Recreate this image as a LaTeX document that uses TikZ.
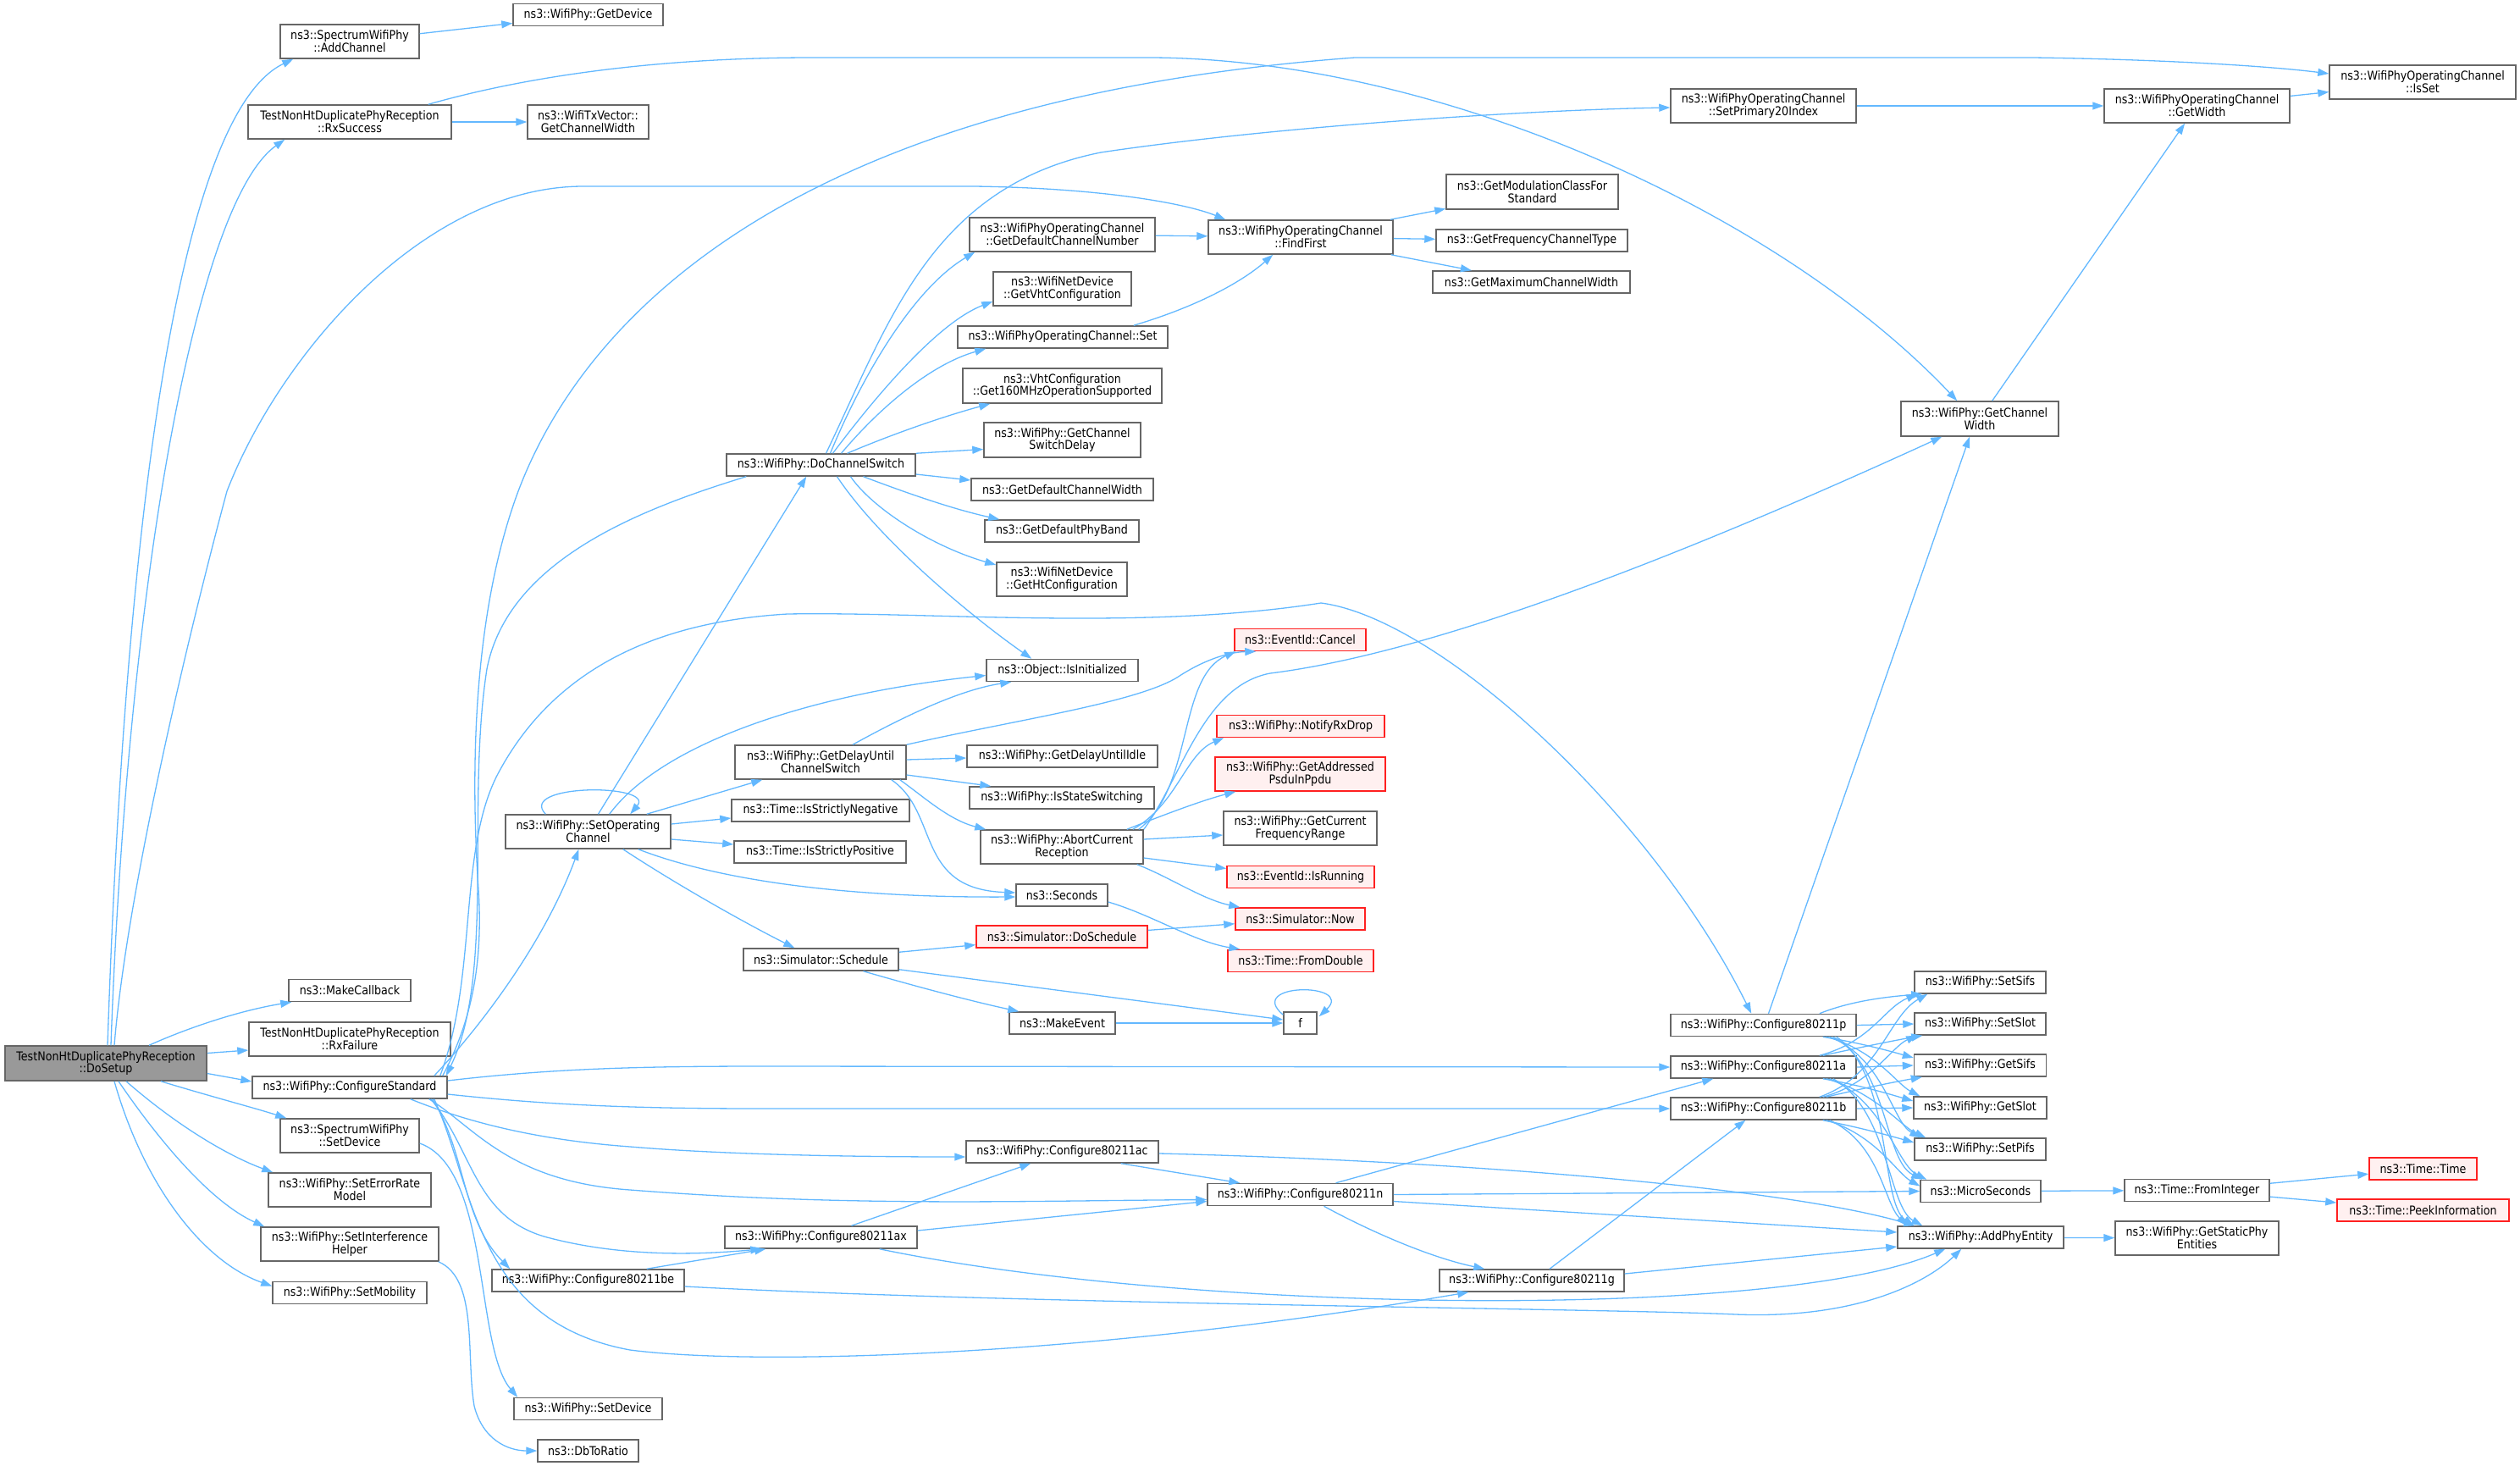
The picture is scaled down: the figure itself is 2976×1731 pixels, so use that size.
\documentclass[tikz,border=0pt]{standalone}
\usepackage{fontspec}
\setmainfont{DejaVu Sans}[FakeStretch=0.88]
\usepackage{tikz}
\usetikzlibrary{arrows.meta,calc}
\definecolor{edgeblue}{HTML}{63B8FF}
\definecolor{boxgray}{HTML}{666666}
\definecolor{rootgray}{HTML}{999999}
\definecolor{redline}{HTML}{FF2020}
\definecolor{redfill}{HTML}{FFF0F0}

\begin{document}
\begin{tikzpicture}[x=1pt,y=1pt,yscale=-1,xscale=1,
    callbox/.style={draw=boxgray, fill=white, line width=1.5pt, inner sep=0pt, align=center, font=\fontsize{14.4}{14.8}\selectfont},
    rootbox/.style={callbox, fill=rootgray},
    redbox/.style={callbox, draw=redline, fill=redfill},
    callarrow/.style={draw=edgeblue, line width=1.3pt, -{Triangle[length=13pt,width=9pt]}}]
    %set diagram left start at 0, and has the size of the call graph
    \useasboundingbox (0,0) rectangle (2976,1731);

    % Text Node: caller
    \node[rootbox, minimum width=238, minimum height=41] (root) at (125,1255.5) {TestNonHtDuplicatePhyReception\\::DoSetup};
    % Text Node: first column
    \node[callbox, minimum width=164, minimum height=40] (addch) at (413,49) {ns3::SpectrumWifiPhy\\::AddChannel};
    \node[callbox, minimum width=240, minimum height=40] (rxsucc) at (413,144) {TestNonHtDuplicatePhyReception\\::RxSuccess};
    \node[callbox, minimum width=144, minimum height=26] (makecb) at (413,1169.5) {ns3::MakeCallback};
    \node[callbox, minimum width=238, minimum height=40] (rxfail) at (413,1227) {TestNonHtDuplicatePhyReception\\::RxFailure};
    \node[callbox, minimum width=230, minimum height=26] (cfgstd) at (413,1284) {ns3::WifiPhy::ConfigureStandard};
    \node[callbox, minimum width=164, minimum height=40] (spsetdev) at (413,1341) {ns3::SpectrumWifiPhy\\::SetDevice};
    \node[callbox, minimum width=192, minimum height=40] (seterr) at (413,1405) {ns3::WifiPhy::SetErrorRate\\Model};
    \node[callbox, minimum width=210, minimum height=40] (setintf) at (413,1469) {ns3::WifiPhy::SetInterference\\Helper};
    \node[callbox, minimum width=182, minimum height=26] (setmob) at (413,1526.5) {ns3::WifiPhy::SetMobility};
    % Text Node: second column
    \node[callbox, minimum width=177, minimum height=26] (getdev) at (694.5,17.5) {ns3::WifiPhy::GetDevice};
    \node[callbox, minimum width=143, minimum height=40] (txwidth) at (694.5,144) {ns3::WifiTxVector::\\GetChannelWidth};
    \node[callbox, minimum width=195, minimum height=40] (setopch) at (694.5,982) {ns3::WifiPhy::SetOperating\\Channel};
    \node[callbox, minimum width=227, minimum height=26] (cfgbe) at (694.5,1512) {ns3::WifiPhy::Configure80211be};
    \node[callbox, minimum width=175, minimum height=26] (setdev) at (694.5,1663.5) {ns3::WifiPhy::SetDevice};
    \node[callbox, minimum width=119, minimum height=26] (dbratio) at (694.5,1713) {ns3::DbToRatio};
    % Text Node: third column
    \node[callbox, minimum width=223, minimum height=26] (dochsw) at (969.5,549) {ns3::WifiPhy::DoChannelSwitch};
    \node[callbox, minimum width=202, minimum height=40] (delaysw) at (969,900) {ns3::WifiPhy::GetDelayUntil\\ChannelSwitch};
    \node[callbox, minimum width=210, minimum height=26] (strneg) at (969,957) {ns3::Time::IsStrictlyNegative};
    \node[callbox, minimum width=203, minimum height=26] (strpos) at (968.5,1006) {ns3::Time::IsStrictlyPositive};
    \node[callbox, minimum width=183, minimum height=26] (sched) at (969.5,1133) {ns3::Simulator::Schedule};
    \node[callbox, minimum width=227, minimum height=26] (cfgax) at (969.5,1461) {ns3::WifiPhy::Configure80211ax};
    % Text Node: fourth column
    \node[callbox, minimum width=219, minimum height=40] (defchn) at (1254.5,277) {ns3::WifiPhyOperatingChannel\\::GetDefaultChannelNumber};
    \node[callbox, minimum width=163, minimum height=40] (vhtconf) at (1254.5,341) {ns3::WifiNetDevice\\::GetVhtConfiguration};
    \node[callbox, minimum width=248, minimum height=26] (opset) at (1255,398) {ns3::WifiPhyOperatingChannel::Set};
    \node[callbox, minimum width=235, minimum height=41] (get160) at (1254.5,455.5) {ns3::VhtConfiguration\\::Get160MHzOperationSupported};
    \node[callbox, minimum width=185, minimum height=41] (swdelay) at (1254.5,519.5) {ns3::WifiPhy::GetChannel\\SwitchDelay};
    \node[callbox, minimum width=215, minimum height=26] (defwidth) at (1254.5,578) {ns3::GetDefaultChannelWidth};
    \node[callbox, minimum width=182, minimum height=26] (phyband) at (1254,627) {ns3::GetDefaultPhyBand};
    \node[callbox, minimum width=154, minimum height=40] (htconf) at (1254,684) {ns3::WifiNetDevice\\::GetHtConfiguration};
    \node[callbox, minimum width=179, minimum height=26] (isinit) at (1254.5,791.5) {ns3::Object::IsInitialized};
    \node[callbox, minimum width=225, minimum height=26] (delayidle) at (1254.5,893) {ns3::WifiPhy::GetDelayUntilIdle};
    \node[callbox, minimum width=218, minimum height=26] (stsw) at (1254,942) {ns3::WifiPhy::IsStateSwitching};
    \node[callbox, minimum width=192, minimum height=40] (abortrx) at (1254,1000) {ns3::WifiPhy::AbortCurrent\\Reception};
    \node[callbox, minimum width=108, minimum height=26] (seconds) at (1254,1057) {ns3::Seconds};
    \node[redbox, minimum width=202, minimum height=26] (dosched) at (1254,1106) {ns3::Simulator::DoSchedule};
    \node[callbox, minimum width=125, minimum height=26] (makeev) at (1254.5,1208) {ns3::MakeEvent};
    \node[callbox, minimum width=227, minimum height=26] (cfgac) at (1254.5,1360) {ns3::WifiPhy::Configure80211ac};
    % Text Node: fifth column
    \node[callbox, minimum width=218, minimum height=40] (ffirst) at (1536,280) {ns3::WifiPhyOperatingChannel\\::FindFirst};
    \node[redbox, minimum width=155, minimum height=26] (cancel) at (1535.5,755.5) {ns3::EventId::Cancel};
    \node[redbox, minimum width=198, minimum height=26] (rxdrop) at (1536,857.5) {ns3::WifiPhy::NotifyRxDrop};
    \node[redbox, minimum width=201, minimum height=40] (addrpsdu) at (1535.5,914) {ns3::WifiPhy::GetAddressed\\PsduInPpdu};
    \node[callbox, minimum width=181, minimum height=40] (curfreq) at (1535.5,978) {ns3::WifiPhy::GetCurrent\\FrequencyRange};
    \node[redbox, minimum width=174, minimum height=26] (isrun) at (1536,1035.5) {ns3::EventId::IsRunning};
    \node[redbox, minimum width=153, minimum height=26] (simnow) at (1535.5,1085) {ns3::Simulator::Now};
    \node[redbox, minimum width=172, minimum height=26] (fromdbl) at (1536,1134.5) {ns3::Time::FromDouble};
    \node[callbox, minimum width=39, minimum height=26] (ffun) at (1535.5,1208) {f};
    \node[callbox, minimum width=219, minimum height=26] (cfgn) at (1535.5,1410.5) {ns3::WifiPhy::Configure80211n};
    % Text Node: sixth column
    \node[callbox, minimum width=203, minimum height=41] (modclass) at (1809.5,226.5) {ns3::GetModulationClassFor\\Standard};
    \node[callbox, minimum width=226, minimum height=26] (freqtype) at (1809,284) {ns3::GetFrequencyChannelType};
    \node[callbox, minimum width=233, minimum height=26] (maxwidth) at (1808.5,333) {ns3::GetMaximumChannelWidth};
    \node[callbox, minimum width=218, minimum height=26] (cfgg) at (1809,1512) {ns3::WifiPhy::Configure80211g};
    % Text Node: seventh column
    \node[callbox, minimum width=219, minimum height=40] (setprim) at (2082.5,125) {ns3::WifiPhyOperatingChannel\\::SetPrimary20Index};
    \node[callbox, minimum width=219, minimum height=26] (cfgp) at (2082.5,1210.5) {ns3::WifiPhy::Configure80211p};
    \node[callbox, minimum width=219, minimum height=26] (cfga) at (2082.5,1260) {ns3::WifiPhy::Configure80211a};
    \node[callbox, minimum width=219, minimum height=26] (cfgb) at (2082.5,1309) {ns3::WifiPhy::Configure80211b};
    % Text Node: eighth column
    \node[callbox, minimum width=186, minimum height=41] (chwidth) at (2338,494.5) {ns3::WifiPhy::GetChannel\\Width};
    \node[callbox, minimum width=155, minimum height=26] (setsifs) at (2338.5,1160) {ns3::WifiPhy::SetSifs};
    \node[callbox, minimum width=155, minimum height=26] (setslot) at (2338.5,1209) {ns3::WifiPhy::SetSlot};
    \node[callbox, minimum width=156, minimum height=26] (getsifs) at (2338.5,1258) {ns3::WifiPhy::GetSifs};
    \node[callbox, minimum width=157, minimum height=26] (getslot) at (2338.5,1308) {ns3::WifiPhy::GetSlot};
    \node[callbox, minimum width=155, minimum height=26] (setpifs) at (2338.5,1357) {ns3::WifiPhy::SetPifs};
    \node[callbox, minimum width=142, minimum height=26] (micros) at (2339,1406.5) {ns3::MicroSeconds};
    \node[callbox, minimum width=196, minimum height=26] (addphy) at (2339,1461) {ns3::WifiPhy::AddPhyEntity};
    % Text Node: last columns
    \node[callbox, minimum width=219, minimum height=40] (getwidth) at (2594.5,125) {ns3::WifiPhyOperatingChannel\\::GetWidth};
    \node[callbox, minimum width=171, minimum height=26] (fromint) at (2594.5,1405.5) {ns3::Time::FromInteger};
    \node[callbox, minimum width=193, minimum height=40] (staticphy) at (2594.5,1462) {ns3::WifiPhy::GetStaticPhy\\Entities};
    \node[callbox, minimum width=220, minimum height=40] (isset) at (2861,97) {ns3::WifiPhyOperatingChannel\\::IsSet};
    \node[redbox, minimum width=127, minimum height=26] (timetime) at (2861.5,1380) {ns3::Time::Time};
    \node[redbox, minimum width=203, minimum height=26] (peekinfo) at (2861.5,1429) {ns3::Time::PeekInformation};

    % Calls of DoSetup
    \draw[callarrow] ($(root.north)+(2,0)$) .. controls (150,550) and (220,130) .. ($(addch.south west)+(16,0)$);
    \draw[callarrow] ($(root.north)+(6,0)$) .. controls (150,700) and (230,240) .. ($(rxsucc.south west)+(44,0)$);
    \draw[callarrow] ($(root.north)+(10,0)$) .. controls (150,1050) and (225,740) .. (268,580) .. controls (330,420) and (500,220) .. (689,220) -- (1150,220) .. controls (1300,222) and (1400,240) .. ($(ffirst.north west)+(21,0)$);
    \draw[callarrow] ($(root.north)+(51,0)$) .. controls (230,1210) and (290,1192) .. ($(makecb.south west)+(4,0)$);
    \draw[callarrow] ($(root.east)+(0,-12)$) -- ($(rxfail.west)+(0,13)$);
    \draw[callarrow] ($(root.east)+(0,12)$) -- ($(cfgstd.west)+(0,-7)$);
    \draw[callarrow] ($(root.south)+(65,0)$) .. controls (250,1295) and (300,1308) .. ($(spsetdev.north west)+(8,0)$);
    \draw[callarrow] ($(root.south)+(24,0)$) .. controls (210,1330) and (270,1365) .. ($(seterr.north west)+(6,0)$);
    \draw[callarrow] ($(root.south)+(15,0)$) .. controls (190,1350) and (250,1420) .. ($(setintf.north west)+(5,0)$);
    \draw[callarrow] ($(root.south)+(10,0)$) .. controls (170,1400) and (240,1490) .. ($(setmob.west)+(0,-8)$);

    % First column
    \draw[callarrow] (addch) -- (getdev);
    \draw[callarrow] (rxsucc) -- (txwidth);
    \draw[callarrow] ($(rxsucc.north east)+(-28,0)$) .. controls (640,85) and (800,68) .. (960,68) -- (1360,68) .. controls (1700,70) and (2100,250) .. ($(chwidth.north west)+(67,0)$);
    \draw[callarrow] ($(cfgstd.north east)+(-6,0)$) .. controls (560,1200) and (570,1130) .. (565,1050) .. controls (555,900) and (560,720) .. (612,580) .. controls (680,400) and (900,120) .. (1600,68) -- (2400,68) .. controls (2550,70) and (2680,78) .. ($(isset.west)+(0,-10)$);
    \draw[callarrow] ($(cfgstd.north east)+(-16,0)$) .. controls (560,1220) and (640,1120) .. ($(setopch.south)+(-11,0)$);
    \draw[callarrow] ($(cfgstd.north east)+(-9,0)$) .. controls (565,1150) and (540,1000) .. (590,910) .. controls (650,800) and (760,735) .. (930,725) .. controls (1100,722) and (1350,745) .. (1560,712) .. controls (1700,730) and (1950,960) .. ($(cfgp.north west)+(96,0)$);
    \draw[callarrow] ($(cfgstd.east)+(0,-8)$) .. controls (650,1262) and (750,1259) .. (900,1259) -- (cfga.west);
    \draw[callarrow] ($(cfgstd.east)+(0,8)$) .. controls (650,1305) and (750,1309) .. (900,1309) -- (cfgb.west);
    \draw[callarrow] ($(cfgstd.south east)+(-44,0)$) .. controls (540,1320) and (620,1345) .. (744,1354) .. controls (850,1363) and (1000,1366) .. ($(cfgac.west)+(0,6)$);
    \draw[callarrow] ($(cfgstd.south east)+(-22,0)$) .. controls (560,1330) and (600,1395) .. (744,1405) .. controls (1000,1425) and (1200,1418) .. ($(cfgn.west)+(0,6)$);
    \draw[callarrow] ($(cfgstd.south east)+(-20,0)$) .. controls (560,1360) and (560,1440) .. (650,1462) .. controls (720,1480) and (800,1484) .. ($(cfgax.south west)+(44,0)$);
    \draw[callarrow] ($(cfgstd.south east)+(-18,0)$) .. controls (550,1360) and (545,1440) .. ($(cfgbe.north west)+(22,0)$);
    \draw[callarrow] ($(cfgstd.south east)+(-16,0)$) .. controls (560,1400) and (560,1560) .. (744,1594) .. controls (900,1614) and (1300,1600) .. ($(cfgg.south west)+(35,0)$);
    \draw[callarrow] ($(spsetdev.east)+(0,9)$) .. controls (580,1380) and (560,1590) .. ($(setdev.north west)+(5,0)$);
    \draw[callarrow] ($(setintf.south east)+(-1,0)$) .. controls (565,1510) and (550,1600) .. (560,1660) .. controls (570,1700) and (600,1713) .. (dbratio.west);

    % SetOperatingChannel
    \draw[callarrow] ($(setopch.north west)+(48,0)$) .. controls (610,925) and (775,925) .. ($(setopch.north west)+(148,0)$);
    \draw[callarrow] ($(setopch.north)+(12,0)$) -- ($(dochsw.south west)+(95,0)$);
    \draw[callarrow] ($(setopch.north east)+(-73,0)$) .. controls (780,880) and (950,820) .. ($(isinit.west)+(0,6)$);
    \draw[callarrow] ($(setopch.north east)+(-29,0)$) -- ($(delaysw.south west)+(33,0)$);
    \draw[callarrow] ($(setopch.east)+(0,-9)$) -- ($(strneg.west)+(0,9)$);
    \draw[callarrow] ($(setopch.east)+(0,9)$) -- ($(strpos.west)+(0,-9)$);
    \draw[callarrow] ($(setopch.south east)+(-39,0)$) .. controls (850,1040) and (1000,1060) .. ($(seconds.west)+(0,2)$);
    \draw[callarrow] ($(setopch.south east)+(-57,0)$) .. controls (800,1045) and (880,1090) .. ($(sched.north west)+(61,0)$);

    % DoChannelSwitch
    \draw[callarrow] ($(dochsw.north)+(6,0)$) .. controls (1050,380) and (1100,220) .. (1300,180) .. controls (1500,150) and (1800,130) .. ($(setprim.west)+(0,2)$);
    \draw[callarrow] ($(dochsw.north)+(11,0)$) .. controls (1020,440) and (1080,340) .. ($(defchn.south west)+(7,0)$);
    \draw[callarrow] ($(dochsw.north)+(14,0)$) .. controls (1040,460) and (1110,380) .. ($(vhtconf.west)+(0,15)$);
    \draw[callarrow] ($(dochsw.north)+(24,0)$) .. controls (1040,480) and (1100,430) .. ($(opset.south west)+(34,0)$);
    \draw[callarrow] ($(dochsw.north)+(31,0)$) .. controls (1060,510) and (1120,490) .. ($(get160.south west)+(33,0)$);
    \draw[callarrow] (dochsw.north east) -- ($(swdelay.west)+(0,11)$);
    \draw[callarrow] ($(dochsw.east)+(0,11)$) -- ($(defwidth.west)+(0,-11)$);
    \draw[callarrow] ($(dochsw.south)+(50,0)$) .. controls (1060,578) and (1120,600) .. ($(phyband.north west)+(18,0)$);
    \draw[callarrow] ($(dochsw.south)+(35,0)$) .. controls (1030,600) and (1100,645) .. ($(htconf.west)+(0,-17)$);
    \draw[callarrow] ($(dochsw.south)+(19,0)$) .. controls (1040,640) and (1150,730) .. ($(isinit.north west)+(54,0)$);
    \draw[callarrow] ($(dochsw.south west)+(24,0)$) .. controls (760,600) and (600,660) .. (575,790) .. controls (550,950) and (585,1150) .. ($(cfgstd.north east)+(-2,0)$);

    % WifiPhyOperatingChannel
    \draw[callarrow] (defchn) -- (ffirst);
    \draw[callarrow] ($(opset.north east)+(-41,0)$) .. controls (1420,360) and (1470,330) .. ($(ffirst.south west)+(77,0)$);
    \draw[callarrow] (ffirst) -- (modclass);
    \draw[callarrow] (ffirst) -- (freqtype);
    \draw[callarrow] (ffirst) -- (maxwidth);
    \draw[callarrow] (setprim) -- (getwidth);
    \draw[callarrow] (chwidth) -- (getwidth);
    \draw[callarrow] (getwidth) -- (isset);

    % GetDelayUntilChannelSwitch
    \draw[callarrow] ($(delaysw.north)+(38,0)$) .. controls (1060,850) and (1130,815) .. ($(isinit.south west)+(30,0)$);
    \draw[callarrow] (delaysw.north east) .. controls (1200,850) and (1340,830) .. (1390,800) .. controls (1420,780) and (1450,770) .. ($(cancel.south west)+(26,0)$);
    \draw[callarrow] ($(delaysw.east)+(0,-3)$) -- ($(delayidle.west)+(0,2)$);
    \draw[callarrow] ($(delaysw.east)+(0,15)$) -- ($(stsw.north west)+(26,0)$);
    \draw[callarrow] ($(delaysw.south east)+(-8,0)$) .. controls (1090,940) and (1120,968) .. ($(abortrx.north west)+(7,0)$);
    \draw[callarrow] ($(delaysw.south east)+(-18,0)$) .. controls (1110,960) and (1080,1050) .. ($(seconds.west)+(0,-3)$);

    % AbortCurrentReception
    \draw[callarrow] ($(abortrx.north east)+(-6,0)$) .. controls (1410,930) and (1390,800) .. ($(cancel.south west)+(2,0)$);
    \draw[callarrow] (abortrx.north east) .. controls (1395,920) and (1420,810) .. (1500,795) .. controls (1700,770) and (2000,650) .. ($(chwidth.south west)+(49,0)$);
    \draw[callarrow] ($(abortrx.north east)+(-13,0)$) .. controls (1390,950) and (1400,890) .. ($(rxdrop.south west)+(9,0)$);
    \draw[callarrow] ($(abortrx.north east)+(-20,0)$) .. controls (1380,960) and (1420,945) .. ($(addrpsdu.south west)+(25,0)$);
    \draw[callarrow] ($(abortrx.east)+(0,-9)$) -- ($(curfreq.west)+(0,8)$);
    \draw[callarrow] ($(abortrx.east)+(0,13)$) -- ($(isrun.west)+(0,-10)$);
    \draw[callarrow] ($(abortrx.south east)+(-8,0)$) .. controls (1380,1035) and (1420,1062) .. ($(simnow.north west)+(6,0)$);

    % Scheduling
    \draw[callarrow] ($(seconds.east)+(0,8)$) .. controls (1360,1080) and (1410,1112) .. ($(fromdbl.north west)+(15,0)$);
    \draw[callarrow] (dosched) -- (simnow);
    \draw[callarrow] (sched) -- (dosched);
    \draw[callarrow] ($(sched.south)+(50,0)$) .. controls (1100,1170) and (1160,1185) .. ($(makeev.north west)+(12,0)$);
    \draw[callarrow] ($(sched.south east)+(0,-2)$) -- ($(ffun.west)+(0,-4)$);
    \draw[callarrow] (makeev) -- (ffun);
    \draw[callarrow] ($(ffun.north west)+(0,4)$) .. controls (1470,1160) and (1600,1160) .. ($(ffun.north east)+(2,6)$);

    % Configure80211x
    \draw[callarrow] ($(cfgbe.north east)+(-45,0)$) -- ($(cfgax.south west)+(49,0)$);
    \draw[callarrow] ($(cfgbe.east)+(0,7)$) .. controls (1200,1540) and (1900,1545) .. (2050,1552) .. controls (2200,1558) and (2280,1510) .. ($(addphy.south west)+(76,0)$);
    \draw[callarrow] ($(cfgax.north)+(36,0)$) -- ($(cfgac.south west)+(77,0)$);
    \draw[callarrow] ($(cfgax.east)+(0,-8)$) -- ($(cfgn.west)+(0,8)$);
    \draw[callarrow] ($(cfgax.south east)+(-45,0)$) .. controls (1400,1550) and (2100,1560) .. ($(addphy.south west)+(57,0)$);
    \draw[callarrow] ($(cfgac.south east)+(-45,0)$) -- ($(cfgn.north west)+(39,0)$);
    \draw[callarrow] ($(cfgac.east)+(0,2)$) .. controls (1700,1370) and (2100,1400) .. ($(addphy.north west)+(21,0)$);
    \draw[callarrow] ($(cfgn.north)+(42,0)$) -- ($(cfga.south west)+(51,0)$);
    \draw[callarrow] ($(cfgn.south)+(28,0)$) .. controls (1620,1455) and (1690,1485) .. ($(cfgg.north west)+(54,0)$);
    \draw[callarrow] (cfgn.east) -- (micros.west);
    \draw[callarrow] ($(cfgn.east)+(0,8)$) -- ($(addphy.west)+(0,-6)$);
    \draw[callarrow] ($(cfgg.north)+(21,0)$) -- ($(cfgb.south west)+(89,0)$);
    \draw[callarrow] ($(cfgg.east)+(0,-8)$) -- ($(addphy.west)+(0,11)$);
    \draw[callarrow] ($(cfgp.north)+(6,0)$) -- ($(chwidth.south)+(-12,0)$);

    % Configure80211p
    \draw[callarrow] ($(cfgp.north east)+(-44,0)$) .. controls (2190,1180) and (2240,1176) .. ($(setsifs.south west)+(10,0)$);
    \draw[callarrow] (cfgp.east) -- (setslot.west);
    \draw[callarrow] ($(cfgp.south east)+(-40,0)$) .. controls (2200,1232) and (2235,1242) .. ($(getsifs.west)+(0,-9)$);
    \draw[callarrow] ($(cfgp.south east)+(-36,0)$) .. controls (2215,1240) and (2240,1280) .. ($(getslot.north west)+(8,0)$);
    \draw[callarrow] ($(cfgp.south east)+(-32,0)$) .. controls (2225,1250) and (2235,1325) .. ($(setpifs.north west)+(8,0)$);
    \draw[callarrow] ($(cfgp.south east)+(-28,0)$) .. controls (2230,1260) and (2225,1370) .. ($(micros.north west)+(3,0)$);
    \draw[callarrow] ($(cfgp.south east)+(-24,0)$) .. controls (2235,1270) and (2220,1420) .. ($(addphy.north west)+(20,0)$);
    % Configure80211a
    \draw[callarrow] ($(cfga.north east)+(-44,0)$) .. controls (2210,1230) and (2225,1190) .. ($(setsifs.south west)+(4,0)$);
    \draw[callarrow] ($(cfga.north east)+(-40,0)$) .. controls (2200,1236) and (2240,1228) .. ($(setslot.south west)+(10,0)$);
    \draw[callarrow] (cfga.east) -- (getsifs.west);
    \draw[callarrow] ($(cfga.south east)+(-40,0)$) .. controls (2200,1282) and (2235,1293) .. ($(getslot.west)+(0,-8)$);
    \draw[callarrow] ($(cfga.south east)+(-36,0)$) .. controls (2215,1290) and (2245,1330) .. ($(setpifs.north west)+(14,0)$);
    \draw[callarrow] ($(cfga.south east)+(-32,0)$) .. controls (2225,1300) and (2240,1375) .. ($(micros.north west)+(8,0)$);
    \draw[callarrow] ($(cfga.south east)+(-28,0)$) .. controls (2230,1310) and (2230,1425) .. ($(addphy.north west)+(30,0)$);
    % Configure80211b
    \draw[callarrow] ($(cfgb.north east)+(-44,0)$) .. controls (2220,1270) and (2230,1200) .. ($(setsifs.south west)+(16,0)$);
    \draw[callarrow] ($(cfgb.north east)+(-40,0)$) .. controls (2210,1280) and (2235,1235) .. ($(setslot.south west)+(4,0)$);
    \draw[callarrow] ($(cfgb.north east)+(-36,0)$) .. controls (2200,1285) and (2240,1277) .. ($(getsifs.south west)+(10,0)$);
    \draw[callarrow] (cfgb.east) -- (getslot.west);
    \draw[callarrow] ($(cfgb.south east)+(-40,0)$) .. controls (2200,1332) and (2235,1342) .. ($(setpifs.west)+(0,-8)$);
    \draw[callarrow] ($(cfgb.south east)+(-36,0)$) .. controls (2215,1340) and (2240,1385) .. ($(micros.west)+(0,-6)$);
    \draw[callarrow] ($(cfgb.south east)+(-32,0)$) .. controls (2220,1350) and (2225,1420) .. ($(addphy.north west)+(12,0)$);

    % Time helpers
    \draw[callarrow] (micros) -- (fromint);
    \draw[callarrow] (addphy) -- (staticphy);
    \draw[callarrow] (fromint) -- (timetime);
    \draw[callarrow] (fromint) -- (peekinfo);

\end{tikzpicture}
\end{document}
